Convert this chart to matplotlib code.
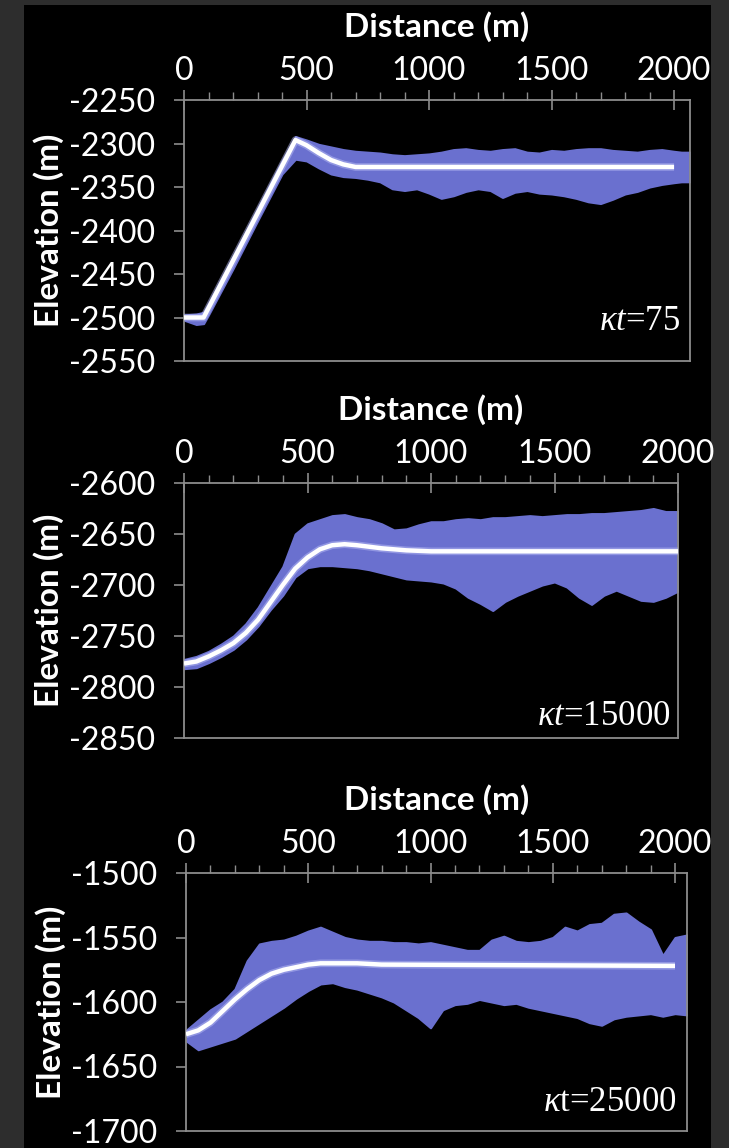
import numpy as np
import matplotlib.pyplot as plt
from matplotlib.ticker import MultipleLocator

plt.rcParams['mathtext.fontset'] = 'custom'
plt.rcParams['mathtext.rm'] = 'Liberation Serif'
plt.rcParams['mathtext.it'] = 'Liberation Serif:italic'
plt.rcParams['axes.unicode_minus'] = False

# ---- panel 1 (kt=75) ----
p1_line_x = [0, 80, 455, 500, 550, 600, 650, 700, 800, 2000]
p1_line_y = [-2500, -2500, -2296, -2302, -2311, -2319, -2324, -2327, -2327, -2327]
p1_band_x = [0, 50, 80, 100, 200, 300, 400, 455, 500, 550, 600, 650, 700, 750, 800, 850,
             900, 950, 1000, 1050, 1100, 1150, 1200, 1250, 1300, 1350, 1400, 1450, 1500,
             1550, 1600, 1650, 1700, 1750, 1800, 1850, 1900, 1950, 2000, 2030, 2065]
p1_upper = [-2497, -2496, -2494, -2484, -2430, -2375, -2320, -2292, -2296, -2301, -2304,
            -2307, -2309, -2310, -2311, -2313, -2314, -2313, -2312, -2310, -2307, -2306,
            -2308, -2309, -2307, -2306, -2310, -2311, -2308, -2309, -2307, -2306, -2306,
            -2308, -2309, -2310, -2308, -2307, -2309, -2310, -2310]
p1_lower = [-2503, -2508, -2507, -2497, -2444, -2389, -2335, -2318, -2320, -2328, -2335,
            -2338, -2339, -2341, -2344, -2352, -2354, -2352, -2357, -2363, -2360, -2355,
            -2352, -2354, -2362, -2356, -2354, -2357, -2358, -2360, -2363, -2367, -2369,
            -2364, -2358, -2355, -2350, -2347, -2345, -2344, -2344]

# ---- panel 2 (kt=15000) ----
p2_line_x = [0, 50, 100, 150, 200, 250, 300, 350, 400, 450, 500, 550, 600, 650, 700, 800,
             900, 1000, 2000]
p2_line_y = [-2777, -2775, -2770, -2764, -2757, -2747, -2734, -2717, -2700, -2684, -2673,
             -2665, -2661, -2660, -2661, -2664, -2666, -2667, -2667]
p2_band_x = [0, 50, 100, 150, 200, 250, 300, 350, 400, 450, 500, 550, 600, 650, 700, 750,
             800, 850, 900, 950, 1000, 1050, 1100, 1150, 1200, 1250, 1300, 1350, 1400, 1450,
             1500, 1550, 1600, 1650, 1700, 1750, 1800, 1850, 1900, 1950, 2000]
p2_upper = [-2773, -2770, -2765, -2758, -2750, -2738, -2722, -2702, -2682, -2650, -2640,
            -2636, -2632, -2631, -2634, -2636, -2640, -2646, -2645, -2641, -2638, -2638,
            -2636, -2635, -2636, -2634, -2634, -2633, -2632, -2633, -2632, -2631, -2631,
            -2630, -2630, -2629, -2628, -2627, -2625, -2628, -2628]
p2_lower = [-2782, -2781, -2776, -2770, -2763, -2753, -2740, -2724, -2710, -2692, -2683,
            -2681, -2681, -2682, -2683, -2685, -2688, -2691, -2694, -2695, -2696, -2698,
            -2703, -2712, -2718, -2725, -2716, -2710, -2705, -2700, -2697, -2702, -2712,
            -2719, -2710, -2705, -2710, -2715, -2716, -2712, -2706]

# ---- panel 3 (kt=25000) ----
p3_line_x = [0, 50, 100, 150, 200, 250, 300, 350, 400, 450, 500, 550, 600, 700, 800, 2000]
p3_line_y = [-1625, -1622, -1616, -1607, -1598, -1590, -1583, -1578, -1575, -1573, -1571,
             -1570, -1570, -1570, -1571, -1572]
p3_band_x = [0, 50, 100, 150, 200, 250, 300, 350, 400, 450, 500, 550, 600, 650, 700, 750,
             800, 850, 900, 950, 1000, 1050, 1100, 1150, 1200, 1250, 1300, 1350, 1400, 1450,
             1500, 1550, 1600, 1650, 1700, 1750, 1800, 1850, 1900, 1950, 2000, 2050]
p3_upper = [-1622, -1614, -1606, -1600, -1590, -1568, -1555, -1553, -1552, -1549, -1545,
            -1542, -1546, -1550, -1552, -1553, -1553, -1554, -1554, -1555, -1554, -1556,
            -1558, -1560, -1560, -1552, -1549, -1553, -1554, -1553, -1550, -1542, -1545,
            -1540, -1539, -1532, -1531, -1538, -1544, -1564, -1550, -1548]
p3_lower = [-1630, -1637, -1634, -1631, -1628, -1622, -1616, -1610, -1604, -1597, -1591,
            -1586, -1585, -1588, -1590, -1593, -1596, -1600, -1606, -1612, -1620, -1606,
            -1602, -1601, -1598, -1600, -1602, -1601, -1604, -1606, -1608, -1610, -1612,
            -1616, -1618, -1613, -1611, -1610, -1609, -1611, -1609, -1610]

panels = [
    dict(lx=p1_line_x, ly=p1_line_y, bx=p1_band_x, up=p1_upper, lo=p1_lower,
         ylim=(-2550, -2250), xmax=2065, label=r'$\kappa t$=75',
         rect=[184/729, 1-361/1148, 506/729, 261/1148], lab_xy=(0.98, 0.15)),
    dict(lx=p2_line_x, ly=p2_line_y, bx=p2_band_x, up=p2_upper, lo=p2_lower,
         ylim=(-2850, -2600), xmax=2000, label=r'$\kappa t$=15000',
         rect=[184/729, 1-738/1148, 494/729, 255/1148], lab_xy=(0.985, 0.085)),
    dict(lx=p3_line_x, ly=p3_line_y, bx=p3_band_x, up=p3_upper, lo=p3_lower,
         ylim=(-1700, -1500), xmax=2049, label=r'$\kappa$t=25000',
         rect=[186/729, 1-1131/1148, 501/729, 258/1148], lab_xy=(0.98, 0.11)),
]

fig = plt.figure(figsize=(7.29, 11.48), dpi=100)
fig.patch.set_facecolor('#2d2d2d')
# black panel inside the grey frame
bg = fig.add_axes([24/729, 0, (711-24)/729, 1-5/1148], zorder=-5)
bg.set_facecolor('black')
bg.set_xticks([])
bg.set_yticks([])
for s in bg.spines.values():
    s.set_visible(False)

blue = '#6a70cf'
spine_c = '#8c8c8c'

for p in panels:
    ax = fig.add_axes(p['rect'])
    ax.set_facecolor('black')
    ax.fill_between(p['bx'], p['lo'], p['up'], color=blue, lw=1.5, edgecolor=blue, zorder=2)
    ax.plot(p['lx'], p['ly'], color='#b9bdf5', lw=5.5, solid_capstyle='butt', zorder=3, alpha=0.5)
    ax.plot(p['lx'], p['ly'], color='white', lw=3.2, solid_capstyle='butt', zorder=4)
    ax.set_xlim(0, p['xmax'])
    ax.set_ylim(*p['ylim'])
    ax.xaxis.tick_top()
    ax.xaxis.set_label_position('top')
    ax.xaxis.set_major_locator(MultipleLocator(500))
    ax.xaxis.set_minor_locator(MultipleLocator(100))
    ax.yaxis.set_major_locator(MultipleLocator(50))
    for s in ax.spines.values():
        s.set_color(spine_c)
        s.set_linewidth(1.3)
    ax.tick_params(axis='x', which='major', direction='inout', length=14, width=1.2,
                   color=spine_c, labelcolor='white', labelsize=23, pad=3)
    ax.tick_params(axis='x', which='minor', direction='out', length=6, width=1.0,
                   color=spine_c)
    ax.tick_params(axis='y', which='major', direction='out', length=7, width=1.2,
                   color=spine_c, labelcolor='white', labelsize=23, pad=14)
    for t in ax.get_xticklabels() + ax.get_yticklabels():
        t.set_family('Lato')
    ax.set_xlabel('Distance (m)', color='white', fontsize=24, fontweight='bold',
                  family='Lato', labelpad=14)
    ax.set_ylabel('Elevation (m)', color='white', fontsize=24, fontweight='bold',
                  family='Lato', labelpad=3)
    ax.text(p['lab_xy'][0], p['lab_xy'][1], p['label'], transform=ax.transAxes,
            ha='right', va='center', color='white', fontsize=25, family='Liberation Serif',
            zorder=5)

fig.savefig('out.png', dpi=100, facecolor=fig.get_facecolor())
